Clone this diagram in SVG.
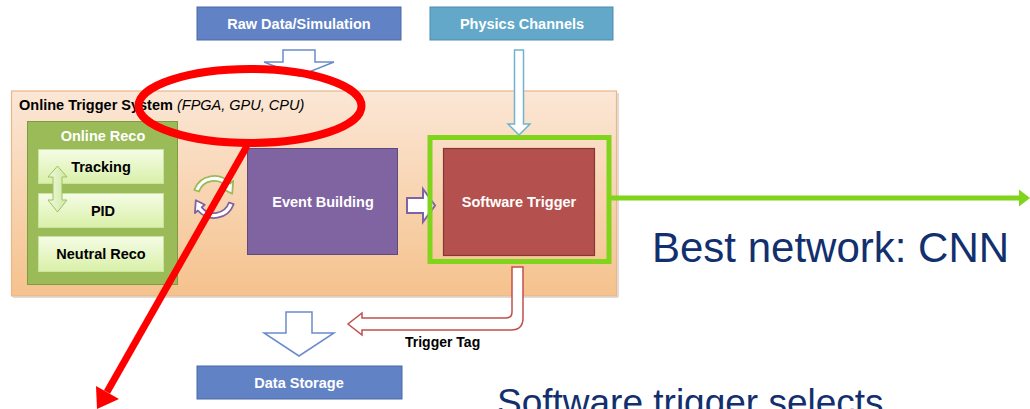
<svg xmlns="http://www.w3.org/2000/svg" width="1030" height="409" viewBox="0 0 1030 409">
<defs>
<linearGradient id="gOuter" x1="0" y1="0" x2="0" y2="1">
<stop offset="0" stop-color="#fbe7d6"/>
<stop offset="1" stop-color="#f5c28d"/>
</linearGradient>
<linearGradient id="gInner" x1="0" y1="0" x2="0" y2="1">
<stop offset="0" stop-color="#f5fce6"/>
<stop offset="1" stop-color="#d9f0a8"/>
</linearGradient>
<linearGradient id="gDbl" x1="0" y1="0" x2="1" y2="0">
<stop offset="0" stop-color="#f1f9e0"/>
<stop offset="1" stop-color="#cfe8a0"/>
</linearGradient>
</defs>
<style>
.lbl{font-family:"Liberation Sans",Arial,sans-serif;font-weight:bold;font-size:14.5px;text-anchor:middle}
.w{fill:#ffffff}
.k{fill:#000000}
.big{font-family:"Liberation Sans",Arial,sans-serif;fill:#12306e}
.inner{fill:url(#gInner);stroke:#c9e3a0;stroke-width:1}
.hollowB{fill:#ffffff;stroke:#6a8ccc;stroke-width:1.5}
</style>
<rect width="1030" height="409" fill="#ffffff"/>

<g id="raw-data">
<rect x="197" y="7" width="204" height="33" fill="#6282c6" stroke="#4a68a6" stroke-width="1"/>
<text class="lbl w" x="299" y="29">Raw Data/Simulation</text>
</g>
<g id="physics-channels">
<rect x="430" y="7" width="183" height="33" fill="#63a8c9" stroke="#4a8db0" stroke-width="1"/>
<text class="lbl w" x="522" y="29">Physics Channels</text>
</g>

<g id="online-trigger-system">
<rect x="11.5" y="91" width="605" height="205" fill="url(#gOuter)" stroke="#eab78a" stroke-width="1.2"/>
<line x1="13" y1="297" x2="618" y2="297" stroke="#d9cfc6" stroke-width="1.5"/>
<line x1="618" y1="93" x2="618" y2="297" stroke="#d9cfc6" stroke-width="1.5"/>
<text x="19" y="110" font-family="Liberation Sans,Arial,sans-serif" font-size="14.5px" fill="#000"><tspan font-weight="bold">Online Trigger System</tspan> <tspan font-style="italic">(FPGA, GPU, CPU)</tspan></text>
</g>

<g id="online-reco">
<rect x="27.5" y="121.5" width="150" height="163" fill="#9bbb59" stroke="#7d9c40" stroke-width="1"/>
<text class="lbl w" x="103" y="141">Online Reco</text>
</g>
<g id="tracking">
<rect class="inner" x="38.5" y="149.5" width="125" height="34"/>
<text class="lbl k" x="101" y="172">Tracking</text>
</g>
<g id="pid">
<rect class="inner" x="38.5" y="193.5" width="125" height="34"/>
<text class="lbl k" x="103" y="216">PID</text>
</g>
<g id="neutral-reco">
<rect class="inner" x="38.5" y="236.5" width="125" height="35"/>
<text class="lbl k" x="101" y="259">Neutral Reco</text>
</g>
<g id="double-arrow">
<path d="M57.5 166 L67 177 L62 177 L62 200 L67 200 L57.5 212 L48 200 L53 200 L53 177 L48 177 Z" fill="url(#gDbl)" stroke="#9cc262" stroke-width="1"/>
</g>

<g id="cycle-arrows">
<path d="M194.3 189.8 A21 21 0 0 1 230.1 183.5 L233.2 180.9 L232.2 193.8 L223.2 189.3 L226.3 186.7 A16 16 0 0 0 199 191.5 Z" fill="#ffffff" stroke="#9bbb59" stroke-width="1.8" stroke-linejoin="round"/>
<path d="M233.7 204.2 A21 21 0 0 1 197.9 210.5 L194.9 213.1 L195.8 200.2 L204.8 204.7 L201.7 207.3 A16 16 0 0 0 229 202.5 Z" fill="#ffffff" stroke="#8064a2" stroke-width="1.8" stroke-linejoin="round"/>
</g>

<g id="event-building">
<rect x="247.5" y="148.5" width="150" height="106" fill="#8064a2" stroke="#5e4a7d" stroke-width="1"/>
<text class="lbl w" x="323" y="207">Event Building</text>
</g>

<g id="software-trigger">
<rect x="443.5" y="148.5" width="151" height="107" fill="#b4504d" stroke="#873634" stroke-width="1.2"/>
<text class="lbl w" x="519" y="207">Software Trigger</text>
</g>

<g id="data-storage">
<rect x="197" y="366" width="205" height="33" fill="#6282c6" stroke="#4a68a6" stroke-width="1"/>
<text class="lbl w" x="299" y="388">Data Storage</text>
</g>

<g id="connectors">
<path class="hollowB" d="M283 50 L315 50 L315 62 L334 62 L299 76 L264 62 L283 62 Z"/>
<path d="M514.5 50 L523.5 50 L523.5 124 L530 124 L519 135 L508 124 L514.5 124 Z" fill="#ffffff" stroke="#6fb3d0" stroke-width="1.5"/>
<path d="M407 198 L423 198 L423 189 L435 205.5 L423 222 L423 213 L407 213 Z" fill="#ffffff" stroke="#7f63a5" stroke-width="2"/>
<path d="M512 267 L512 312 Q512 318 506 318 L362 318 L362 313 L348 324 L362 335 L362 330 L511 330 Q523 330 523 318 L523 267 Z" fill="#ffffff" stroke="#c0504d" stroke-width="1.5"/>
<path class="hollowB" d="M286 312 L312 312 L312 333 L334 333 L299 356 L264 333 L286 333 Z"/>
<rect id="highlight" x="430" y="137.5" width="179" height="124" fill="none" stroke="#80d41c" stroke-width="5"/>
<line x1="609" y1="198" x2="1021" y2="198" stroke="#80d41c" stroke-width="5"/>
<polygon points="1030,198 1019,189.5 1019,206.5" fill="#80d41c"/>
<text x="405" y="347" font-family="Liberation Sans,Arial,sans-serif" font-weight="bold" font-size="14px" fill="#000">Trigger Tag</text>
</g>

<g id="notes">
<text class="big" x="652" y="262" font-size="42px">Best network: CNN</text>
<text class="big" x="497" y="415" font-size="37px">Software trigger selects</text>
</g>

<g id="annotation">
<ellipse cx="250" cy="106" rx="111.5" ry="37" fill="none" stroke="#ff0000" stroke-width="8"/>
<line x1="247" y1="146" x2="107" y2="392" stroke="#ff0000" stroke-width="7"/>
<polygon points="97,409 96,386 119,399" fill="#ff0000"/>
</g>
</svg>
